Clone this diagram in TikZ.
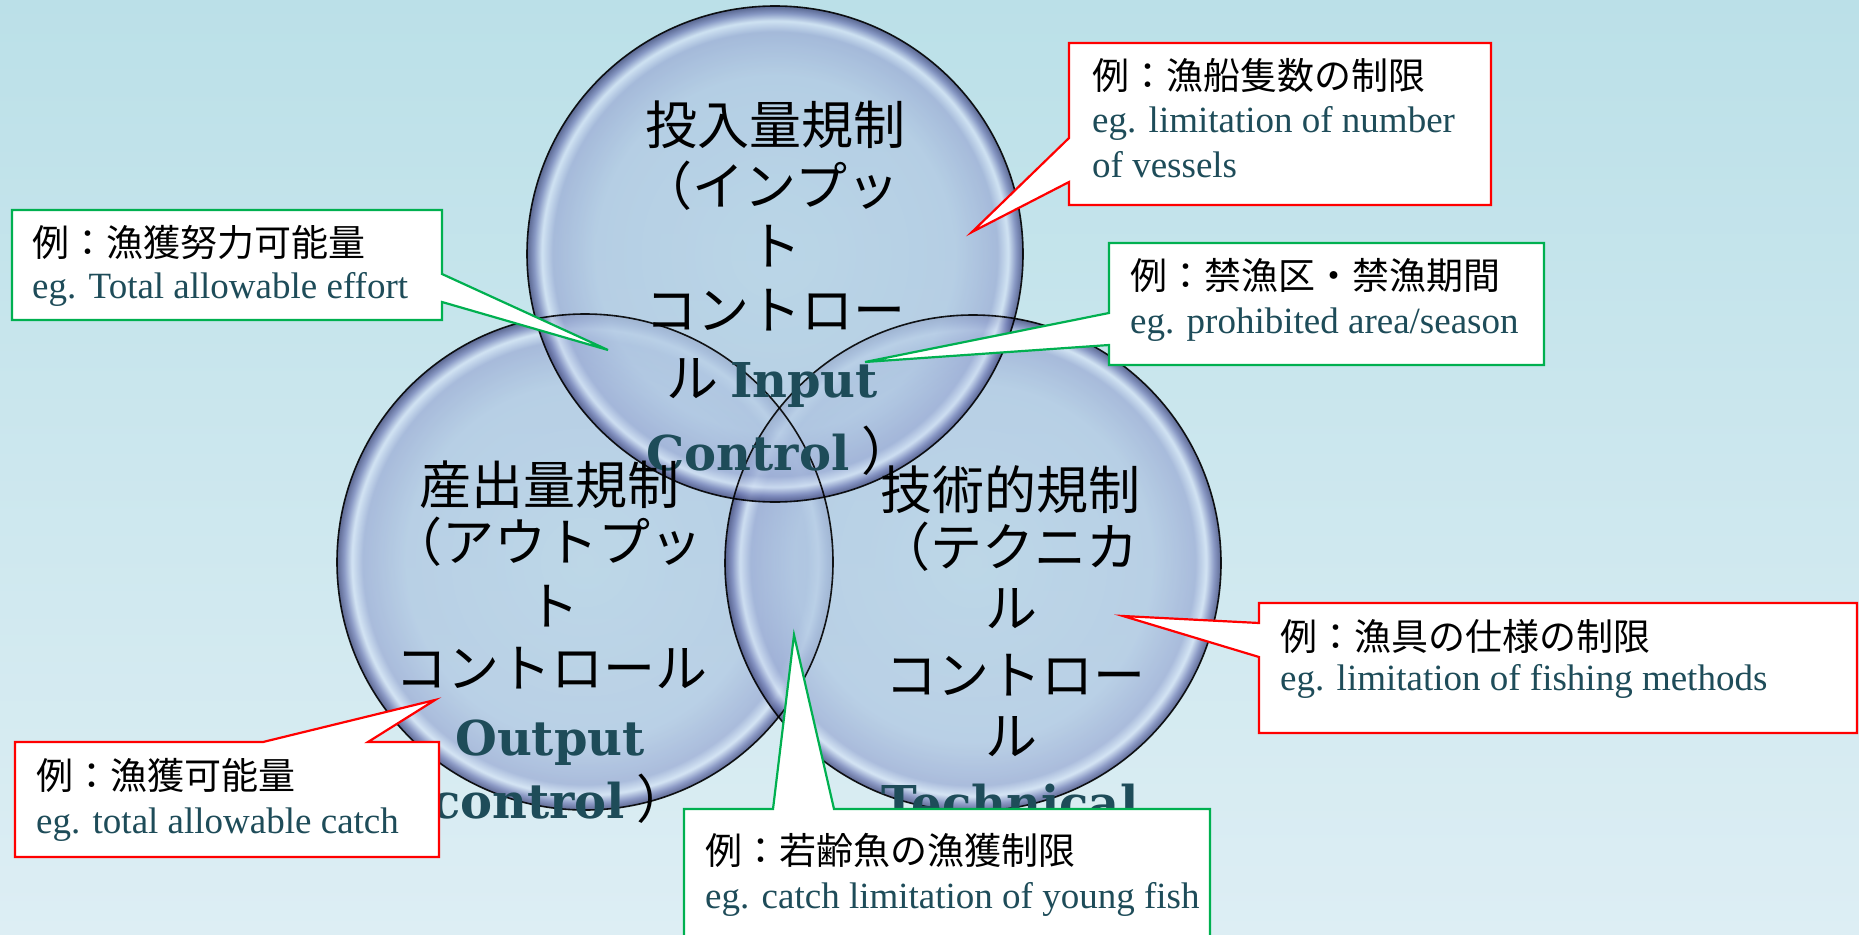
\documentclass[tikz,border=0pt]{standalone}
\usepackage{fontspec}
\setmainfont{Liberation Serif}
\newfontfamily\jp{Noto Sans CJK JP}
\newfontfamily\enbold{DejaVu Serif}
\definecolor{bgtop}{RGB}{187,224,232}
\definecolor{bgbot}{RGB}{221,238,244}
\definecolor{tealtxt}{RGB}{30,76,89}
\definecolor{cred}{RGB}{255,0,0}
\definecolor{cgreen}{RGB}{0,176,80}
\definecolor{gin}{RGB}{184,211,230}
\definecolor{gin2}{RGB}{178,201,227}
\definecolor{gmid}{RGB}{158,175,214}
\definecolor{glt}{RGB}{212,227,245}
\definecolor{gmid2}{RGB}{120,132,186}
\definecolor{gedge}{RGB}{62,70,122}
\pgfdeclareradialshading{glass}{\pgfpoint{0bp}{0bp}}{color(0bp)=(gin); color(18bp)=(gin2); color(22.4bp)=(gmid); color(23.5bp)=(glt); color(24.3bp)=(gmid2); color(25bp)=(gedge); color(50bp)=(gedge)}
\tikzset{
  bubble/.style={shading=glass, fill opacity=0.78},
  rim/.style={draw=black, line width=1.6pt, draw opacity=0.9},
  cjp/.style={font=\jp\fontsize{52}{60}\selectfont, inner sep=0pt, anchor=base, text=black},
  cen/.style={font=\enbold\bfseries\fontsize{48}{56}\selectfont, inner sep=0pt, anchor=base, text=tealtxt},
  bjp/.style={font=\jp\fontsize{37}{44}\selectfont, inner sep=0pt, anchor=base west, text=black},
  ben/.style={font=\fontsize{37}{44}\selectfont, inner sep=0pt, anchor=base west, text=tealtxt},
  callred/.style={draw=cred, line width=2.2pt, fill=white, line join=miter},
  callgreen/.style={draw=cgreen, line width=2.2pt, fill=white, line join=miter},
}
\newcommand{\jpclose}{\hspace{12pt}{\jp\mdseries\fontsize{52}{60}\selectfont\color{black}）}}
\begin{document}
\begin{tikzpicture}[x=1pt,y=-1pt]
\useasboundingbox (0,0) rectangle (1859,934);
\clip (0,0) rectangle (1859,934);
\shade[top color=bgtop, bottom color=bgbot] (0,0) rectangle (1859,934);

% bubbles
\coordinate (cL) at (585,562);
\coordinate (cR) at (973,563);
\coordinate (cT) at (775,254);
\shade[bubble] (cL) circle[radius=248pt];
\shade[bubble] (cR) circle[radius=248pt];
\shade[bubble] (cT) circle[radius=248pt];
\draw[rim] (cL) circle[radius=248pt];
\draw[rim] (cR) circle[radius=248pt];
\draw[rim] (cT) circle[radius=248pt];

% top circle text
\node[cjp] (t1) at (775,144) {投入量規制};
\node[cjp] (t2) at (770,205) {（インプッ};
\node[cjp] (t3) at (775,265) {ト};
\node[cjp] (t4) at (775,329) {コントロー};
\node[cjp] (t5) at (772,397) {ル\hspace{12pt}{\enbold\bfseries\fontsize{48}{56}\selectfont\color{tealtxt}Input}};
\node[cen] (t6) at (780,470) {Control\jpclose};

% left circle text
\node[cjp] (l1) at (549,504) {産出量規制};
\node[cjp] (l2) at (546,561) {（アウトプッ};
\node[cjp] (l3) at (553,625) {ト};
\node[cjp] (l4) at (551,687) {コントロール};
\node[cen] (l5) at (550,755) {Output};
\node[cen] (l6) at (560,818) {control\jpclose};

% right circle text
\node[cjp] (r1) at (1010,509) {技術的規制};
\node[cjp] (r2) at (1008,566) {（テクニカ};
\node[cjp] (r3) at (1011,627) {ル};
\node[cjp] (r4) at (1015,694) {コントロー};
\node[cjp] (r5) at (1011,755) {ル};
\node[cen] (r6) at (1010,820) {Technical};

% callout tips
\coordinate (tipA) at (972,232);
\coordinate (tipB) at (865,362);
\coordinate (tipC) at (608,350);
\coordinate (tipD) at (435,700);
\coordinate (tipE) at (794,635);
\coordinate (tipF) at (1123,616);

% callouts
\draw[callred] (1069,43) -- (1491,43) -- (1491,205) -- (1069,205) -- (1069,182) -- (tipA) -- (1069,138) -- cycle;
\draw[callgreen] (1109,243) -- (1544,243) -- (1544,365) -- (1109,365) -- (1109,345) -- (tipB) -- (1109,313) -- cycle;
\draw[callgreen] (12,210) -- (442,210) -- (442,274) -- (tipC) -- (442,302) -- (442,320) -- (12,320) -- cycle;
\draw[callred] (15,742) -- (263,742) -- (tipD) -- (368,742) -- (439,742) -- (439,857) -- (15,857) -- cycle;
\draw[callgreen] (684,809) -- (773,809) -- (tipE) -- (834,809) -- (1210,809) -- (1210,960) -- (684,960) -- cycle;
\draw[callred] (1259,603) -- (1857,603) -- (1857,733) -- (1259,733) -- (1259,657) -- (tipF) -- (1259,623) -- cycle;

% callout texts
\node[bjp] (a1) at (1092,89) {例：漁船隻数の制限};
\node[ben] (a2) at (1092,132) {eg. limitation of number};
\node[ben] (a3) at (1092,177) {of vessels};

\node[bjp] (b1) at (1130,289) {例：禁漁区・禁漁期間};
\node[ben] (b2) at (1130,333) {eg. prohibited area/season};

\node[bjp] (c1) at (32,256) {例：漁獲努力可能量};
\node[ben] (c2) at (32,298) {eg. Total allowable effort};

\node[bjp] (d1) at (36,789) {例：漁獲可能量};
\node[ben] (d2) at (36,833) {eg. total allowable catch};

\node[bjp] (e1) at (705,864) {例：若齢魚の漁獲制限};
\node[ben] (e2) at (705,908) {eg. catch limitation of young fish};

\node[bjp] (f1) at (1280,650) {例：漁具の仕様の制限};
\node[ben] (f2) at (1280,690) {eg. limitation of fishing methods};
\end{tikzpicture}
\end{document}
